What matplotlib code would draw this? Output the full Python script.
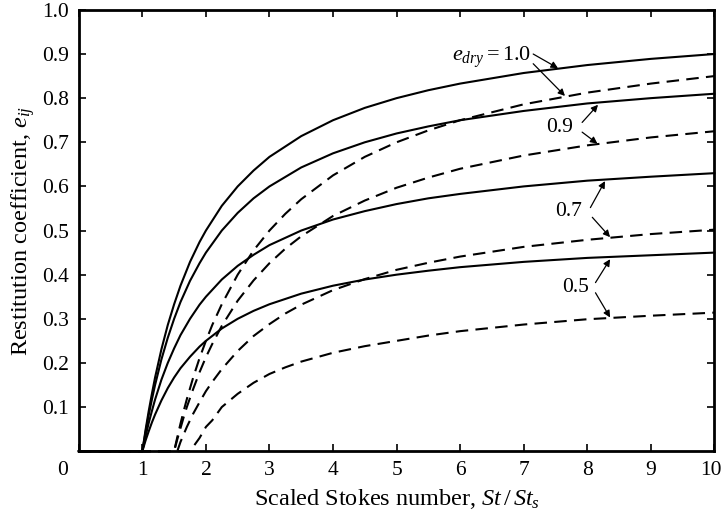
import matplotlib
matplotlib.use("Agg")
import matplotlib.pyplot as plt
import matplotlib.transforms as mtransforms

plt.rcParams['font.family'] = ['Liberation Serif', 'DejaVu Serif']
plt.rcParams['mathtext.fontset'] = 'custom'
plt.rcParams['mathtext.rm'] = 'Liberation Serif'
plt.rcParams['mathtext.it'] = 'Liberation Serif:italic'
plt.rcParams['font.size'] = 15.5

# solid curves (start at St/St_s = 1)
x_solid = [0, 1.0, 1.05, 1.1, 1.15, 1.2, 1.3, 1.4, 1.5, 1.6, 1.75, 1.9, 2.0, 2.25, 2.5, 2.75, 3.0, 3.5, 4.0, 4.5, 5.0, 5.5, 6.0, 7.0, 8.0, 9.0, 10.0]
solid_10 = [0, 0, 0.048, 0.091, 0.130, 0.167, 0.231, 0.286, 0.333, 0.375, 0.429, 0.474, 0.5, 0.556, 0.6, 0.636, 0.667, 0.714, 0.75, 0.778, 0.8, 0.818, 0.833, 0.857, 0.875, 0.889, 0.9]
solid_09 = [0, 0, 0.043, 0.082, 0.117, 0.15, 0.208, 0.257, 0.3, 0.338, 0.386, 0.426, 0.45, 0.5, 0.54, 0.573, 0.6, 0.643, 0.675, 0.7, 0.72, 0.736, 0.75, 0.771, 0.788, 0.8, 0.81]
solid_07 = [0, 0, 0.033, 0.064, 0.091, 0.117, 0.162, 0.2, 0.233, 0.263, 0.3, 0.332, 0.35, 0.389, 0.42, 0.445, 0.467, 0.5, 0.525, 0.544, 0.56, 0.573, 0.583, 0.6, 0.613, 0.622, 0.63]
solid_05 = [0, 0, 0.024, 0.045, 0.065, 0.083, 0.115, 0.143, 0.167, 0.188, 0.214, 0.237, 0.25, 0.278, 0.3, 0.318, 0.333, 0.357, 0.375, 0.389, 0.4, 0.409, 0.417, 0.429, 0.438, 0.444, 0.45]

# dashed curves
x_d10 = [0, 1.5, 1.55, 1.6, 1.65, 1.7, 1.8, 1.9, 2.0, 2.1, 2.25, 2.5, 2.75, 3.0, 3.25, 3.5, 4.0, 4.5, 5.0, 5.5, 6.0, 7.0, 8.0, 9.0, 10.0]
dash_10 = [0, 0, 0.032, 0.0625, 0.091, 0.118, 0.167, 0.211, 0.25, 0.286, 0.333, 0.4, 0.455, 0.5, 0.538, 0.571, 0.625, 0.667, 0.7, 0.727, 0.75, 0.786, 0.8125, 0.833, 0.85]
x_d09 = [0, 1.5, 1.55, 1.6, 1.65, 1.7, 1.8, 1.9, 2.0, 2.1, 2.25, 2.5, 2.75, 3.0, 3.25, 3.5, 4.0, 4.5, 5.0, 5.5, 6.0, 7.0, 8.0, 9.0, 10.0]
dash_09 = [0, 0, 0.027, 0.052, 0.077, 0.1, 0.141, 0.179, 0.213, 0.243, 0.284, 0.341, 0.387, 0.426, 0.459, 0.487, 0.533, 0.568, 0.597, 0.62, 0.64, 0.67, 0.693, 0.711, 0.725]
x_d07 = [0, 1.55, 1.6, 1.65, 1.7, 1.8, 1.9, 2.0, 2.1, 2.25, 2.5, 2.75, 3.0, 3.25, 3.5, 4.0, 4.5, 5.0, 5.5, 6.0, 7.0, 8.0, 9.0, 10.0]
dash_07 = [0, 0, 0.021, 0.038, 0.055, 0.085, 0.111, 0.136, 0.157, 0.186, 0.227, 0.261, 0.288, 0.312, 0.332, 0.365, 0.39, 0.411, 0.427, 0.441, 0.463, 0.479, 0.492, 0.502]
x_d05 = [0, 1.75, 1.8, 1.9, 2.0, 2.1, 2.25, 2.5, 2.75, 3.0, 3.25, 3.5, 4.0, 4.5, 5.0, 5.5, 6.0, 7.0, 8.0, 9.0, 10.0]
dash_05 = [0, 0, 0.01, 0.03, 0.055, 0.07, 0.1, 0.13, 0.155, 0.175, 0.19, 0.203, 0.223, 0.238, 0.25, 0.262, 0.272, 0.287, 0.299, 0.307, 0.314]

fig = plt.figure(figsize=(7.23, 5.21), dpi=100)
ax = fig.add_axes([0.109, 0.134, 0.879, 0.847])

for ys in [solid_10, solid_09, solid_07, solid_05]:
    ax.plot(x_solid, ys, color="black", lw=1.5, clip_on=False, solid_joinstyle="round")
for xs, ys in [(x_d10, dash_10), (x_d09, dash_09), (x_d07, dash_07), (x_d05, dash_05)]:
    ax.plot(xs, ys, color="black", lw=1.5, dashes=(6, 3.5), clip_on=False)

arrow = dict(arrowstyle='-|>', lw=0.9, color='black', mutation_scale=10, shrinkA=0, shrinkB=0)
ax.text(7.12, 0.892, r"$e_{dry} = 1.0$", ha="right", va="center", fontsize=16)
ax.annotate("", xy=(7.54, 0.868), xytext=(7.15, 0.9), arrowprops=arrow)
ax.annotate("", xy=(7.65, 0.805), xytext=(7.15, 0.878), arrowprops=arrow)

ax.text(7.57, 0.734, "0.9", ha="center", va="center", fontsize=15.5)
ax.annotate("", xy=(8.17, 0.785), xytext=(7.92, 0.745), arrowprops=arrow)
ax.annotate("", xy=(8.16, 0.697), xytext=(7.92, 0.723), arrowprops=arrow)

ax.text(7.7, 0.543, "0.7", ha="center", va="center", fontsize=15.5)
ax.annotate("", xy=(8.28, 0.612), xytext=(8.05, 0.552), arrowprops=arrow)
ax.annotate("", xy=(8.36, 0.485), xytext=(8.08, 0.53), arrowprops=arrow)

ax.text(7.81, 0.37, "0.5", ha="center", va="center", fontsize=15.5)
ax.annotate("", xy=(8.36, 0.435), xytext=(8.13, 0.382), arrowprops=arrow)
ax.annotate("", xy=(8.36, 0.303), xytext=(8.13, 0.359), arrowprops=arrow)

ax.set_xlim(0, 10)
ax.set_ylim(0, 1.0)
ax.set_xticks(range(0, 11))
ax.set_yticks([0.1, 0.2, 0.3, 0.4, 0.5, 0.6, 0.7, 0.8, 0.9, 1.0])
ax.set_yticklabels(["0.1", "0.2", "0.3", "0.4", "0.5", "0.6", "0.7", "0.8", "0.9", "1.0"])
ax.tick_params(direction="in", top=True, right=True, length=5, width=1.2, labelsize=15.5, pad=7)
for s in ax.spines.values():
    s.set_linewidth(2)

# corner "0" sits left of the origin, "10" nudged to stay inside the figure
xlabs = ax.get_xticklabels()
lab0 = xlabs[0]
lab0.set_transform(lab0.get_transform() + mtransforms.ScaledTranslation(-0.16, 0, fig.dpi_scale_trans))
lab10 = xlabs[-1]
lab10.set_transform(lab10.get_transform() + mtransforms.ScaledTranslation(-0.03, 0, fig.dpi_scale_trans))

ax.set_xlabel(r"Scaled Stokes number, $St\,/\,St_s$", fontsize=17.5, labelpad=5)
ax.set_ylabel(r"Restitution coefficient, $e_{ij}$", fontsize=17.5, labelpad=4)

fig.savefig("out.png", dpi=100)
